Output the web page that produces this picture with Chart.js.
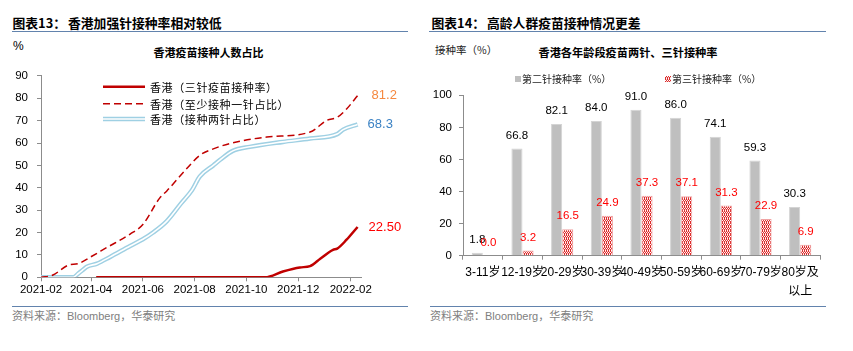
<!DOCTYPE html>
<html>
<head>
<meta charset="utf-8">
<script src="https://cdn.jsdelivr.net/npm/chart.js@4/dist/chart.umd.min.js"></script>
<style>
  html,body{margin:0;padding:0;}
  body{width:853px;height:351px;background:#fff;position:relative;overflow:hidden;font-family:"Liberation Sans","Noto Sans CJK SC",sans-serif;color:#000;}
  .abs{position:absolute;white-space:nowrap;line-height:1;}
  .head{font-family:"Noto Sans CJK SC",sans-serif;font-weight:bold;font-size:12.8px;transform:translateY(-50%);}
  .rule{position:absolute;height:1px;background:#6283ad;}
  .sub{font-family:"Noto Sans CJK SC",sans-serif;font-weight:bold;font-size:11px;transform:translate(-50%,-50%);}
  .src{font-family:"Liberation Sans","Noto Sans CJK SC",sans-serif;font-size:11px;color:#808080;transform:translateY(-50%);}
  .leg{font-family:"Noto Sans CJK SC",sans-serif;font-size:11px;letter-spacing:0.6px;transform:translateY(-50%);}
  .leg2{font-family:"Noto Sans CJK SC",sans-serif;font-size:10px;transform:translateY(-50%);color:#222;}
  canvas{position:absolute;}
</style>
</head>
<body>
<!-- Left panel -->
<div class="abs head" style="left:12.5px;top:22.5px;">图表13：<span style="margin-left:2px">香港加强针接种率相对较低</span></div>
<div class="rule" style="left:12px;top:31px;width:396px;"></div>
<div class="abs" style="left:13px;top:46px;font-size:12px;transform:translateY(-50%);">%</div>
<div class="abs sub" style="left:208.5px;top:52px;">香港疫苗接种人数占比</div>
<canvas id="c1" width="420" height="245" style="left:0;top:60px;width:420px;height:245px;"></canvas>
<svg class="abs" style="left:103px;top:83px;" width="44" height="40">
  <line x1="0" y1="3.7" x2="42" y2="3.7" stroke="#c00000" stroke-width="2.5"/>
  <line x1="0" y1="20.7" x2="42" y2="20.7" stroke="#c00000" stroke-width="1.5" stroke-dasharray="7,4"/>
  <line x1="0" y1="36" x2="42" y2="36" stroke="#9fd0e3" stroke-width="4.5"/>
  <line x1="0" y1="36" x2="42" y2="36" stroke="#ffffff" stroke-width="1.6"/>
</svg>
<div class="abs leg" style="left:150px;top:86.7px;">香港（三针疫苗接种率）</div>
<div class="abs leg" style="left:150px;top:103.7px;">香港（至少接种一针占比）</div>
<div class="abs leg" style="left:150px;top:119px;">香港（接种两针占比）</div>
<div class="rule" style="left:12px;top:306px;width:396px;"></div>
<div class="abs src" style="left:12px;top:316px;">资料来源：Bloomberg，华泰研究</div>

<!-- Right panel -->
<div class="abs head" style="left:431.5px;top:22.5px;">图表14：<span style="margin-left:2px">高龄人群疫苗接种情况更差</span></div>
<div class="rule" style="left:429px;top:31px;width:397px;"></div>
<div class="abs leg2" style="left:435px;top:50px;font-size:10.5px;">接种率（%）</div>
<div class="abs sub" style="left:628px;top:53px;font-size:11.2px;">香港各年龄段疫苗两针、三针接种率</div>
<canvas id="c2" width="433" height="245" style="left:420px;top:60px;width:433px;height:245px;"></canvas>
<div class="abs" style="left:515px;top:76px;width:6px;height:6px;background:#bfbfbf;"></div>
<div class="abs leg2" style="left:522px;top:79px;">第二针接种率（%）</div>
<canvas id="lg3" width="6" height="6" style="left:665px;top:76px;width:6px;height:6px;"></canvas>
<div class="abs leg2" style="left:672px;top:79px;">第三针接种率（%）</div>
<div class="rule" style="left:430px;top:306px;width:396px;"></div>
<div class="abs src" style="left:430px;top:316px;">资料来源：Bloomberg，华泰研究</div>

<script>
// ---------------- Left chart data ----------------
const xTickLabels = ['2021-02','2021-04','2021-06','2021-08','2021-10','2021-12','2022-02'];
const yTicksLeft = [0,10,20,30,40,50,60,70,80,90];

const dose1Dates = ['2021-02-01','2021-02-15','2021-03-05','2021-03-17','2021-03-31','2021-04-20','2021-05-17','2021-06-01','2021-06-21','2021-06-29','2021-07-23','2021-08-07','2021-08-23','2021-09-11','2021-10-25','2021-12-15','2022-01-04','2022-01-16','2022-01-27','2022-02-09'];
const dose1Values = [0,1,5.4,6.1,9,13.4,19.3,23.6,35.5,38.5,48.7,54.5,57.4,59.7,62.7,64.9,70.2,71.5,75.2,81.2];

const dose2Dates = ['2021-02-01','2021-03-11','2021-03-17','2021-03-23','2021-03-27','2021-04-08','2021-04-23','2021-05-17','2021-06-01','2021-06-13','2021-06-29','2021-07-16','2021-07-29','2021-08-07','2021-08-23','2021-08-31','2021-09-15','2021-10-05','2021-11-13','2021-12-15','2022-01-16','2022-01-23','2022-02-09'];
const dose2Values = [0,0,1.7,3.5,4.7,6.1,9,14,17,20,25,33,39,45,50,52.5,56.5,58.3,60.5,62,64,66,68.3];

const dose3Dates = ['2021-04-07','2021-10-23','2021-11-13','2021-12-03','2021-12-15','2021-12-27','2022-01-11','2022-01-16','2022-01-27','2022-02-09'];
const dose3Values = [0,0,2.6,4.4,5.0,8.3,12.3,12.8,16.8,22.5];

const seriesNames = ['香港（三针疫苗接种率）','香港（至少接种一针占比）','香港（接种两针占比）'];

// ---------------- Right chart data ----------------
const ageGroups = ['3-11岁','12-19岁','20-29岁','30-39岁','40-49岁','50-59岁','60-69岁','70-79岁',['80岁及','以上']];
const secondDoseRate = [1.8,66.8,82.1,84.0,91.0,86.0,74.1,59.3,30.3];
const thirdDoseRate = [0.0,3.2,16.5,24.9,37.3,37.1,31.3,22.9,6.9];
const barSeriesNames = ['第二针接种率（%）','第三针接种率（%）'];

// ---------------- helpers ----------------
const ORIGIN = Date.UTC(2021,1,1);
function dayOf(s){
  const p = s.split('-').map(Number);
  return (Date.UTC(p[0], p[1]-1, p[2]||1) - ORIGIN)/86400000;
}
function pts(dates, vals){ return dates.map((d,i)=>({x:dayOf(d), y:vals[i]})); }
const xTickDays = xTickLabels.map(l=>dayOf(l));
const tickLabelMap = {};
xTickDays.forEach((d,i)=>{ tickLabelMap[d]=xTickLabels[i]; });

const NUMFONT = '"Liberation Sans", "Noto Sans CJK SC", sans-serif';
const AXIS = '#8c8c8c';

// End-value labels plugin
const endLabels = {
  id:'endLabels',
  afterDatasetsDraw(chart){
    const ctx = chart.ctx;
    ctx.save();
    ctx.font = '13px ' + NUMFONT;
    ctx.textAlign = 'left';
    ctx.textBaseline = 'middle';
    chart.data.datasets.forEach((ds,i)=>{
      if(!ds.endLabel) return;
      const meta = chart.getDatasetMeta(i);
      const last = meta.data[meta.data.length-1];
      const v = ds.data[ds.data.length-1].y;
      ctx.fillStyle = ds.endLabel.color;
      ctx.fillText(v.toFixed(ds.endLabel.dec), last.x + ds.endLabel.dx, last.y);
    });
    ctx.restore();
  }
};

new Chart(document.getElementById('c1'), {
  type:'line',
  data:{
    datasets:[
      {label:seriesNames[0], data:pts(dose3Dates,dose3Values), borderColor:'#c00000', borderWidth:2.5, pointRadius:0, order:0, cubicInterpolationMode:'monotone', endLabel:{color:'#ff0000',dec:2,dx:11}},
      {label:seriesNames[1], data:pts(dose1Dates,dose1Values), borderColor:'#c00000', borderWidth:1.5, borderDash:[7,4], pointRadius:0, order:1, cubicInterpolationMode:'monotone', endLabel:{color:'#f5883f',dec:1,dx:14}},
      {label:'_inner', data:pts(dose2Dates,dose2Values), borderColor:'#ffffff', borderWidth:1.6, pointRadius:0, order:2, cubicInterpolationMode:'monotone'},
      {label:seriesNames[2], data:pts(dose2Dates,dose2Values), borderColor:'#9fd0e3', borderWidth:4.5, pointRadius:0, order:3, cubicInterpolationMode:'monotone', endLabel:{color:'#3b82c4',dec:1,dx:10}}
    ]
  },
  options:{
    responsive:false, animation:false, devicePixelRatio:1,
    layout:{padding:{left:0,right:59,top:13,bottom:3}},
    plugins:{legend:{display:false}, tooltip:{enabled:false}},
    scales:{
      x:{
        type:'linear', min:0, max:377,
        afterBuildTicks:(s)=>{ s.ticks = xTickDays.map(v=>({value:v})); },
        afterFit:(s)=>{ s.height = 24.7; },
        ticks:{callback:(v)=>tickLabelMap[v]||'', font:{size:11.5,family:NUMFONT}, color:'#000', padding:2, maxRotation:0, autoSkip:false},
        grid:{drawOnChartArea:false, tickLength:4, color:AXIS},
        border:{color:AXIS, width:1}
      },
      y:{
        min:0, max:90,
        afterBuildTicks:(s)=>{ s.ticks = yTicksLeft.map(v=>({value:v})); },
        afterFit:(s)=>{ s.width = 41; },
        ticks:{font:{size:11.5,family:NUMFONT}, color:'#000', padding:9},
        grid:{drawOnChartArea:false, tickLength:4, color:AXIS},
        border:{color:AXIS, width:1}
      }
    }
  },
  plugins:[endLabels]
});

// pattern for third-dose bars
function makePattern(){
  const c = document.createElement('canvas'); c.width=4; c.height=4;
  const g = c.getContext('2d');
  g.fillStyle='#dc2c2c'; g.fillRect(0,0,4,4);
  g.fillStyle='#ffffff';
  g.fillRect(0,0,1,1); g.fillRect(2,0,1,1); g.fillRect(1,2,1,1); g.fillRect(3,2,1,1);
  g.fillStyle='#f6c4c4';
  g.fillRect(1,1,1,1); g.fillRect(3,3,1,1); g.fillRect(1,3,1,1); g.fillRect(3,1,1,1);
  return c;
}
const patCanvas = makePattern();
const ctx2 = document.getElementById('c2').getContext('2d');
const redPattern = ctx2.createPattern(patCanvas,'repeat');
const lg = document.getElementById('lg3').getContext('2d');
lg.fillStyle = lg.createPattern(patCanvas,'repeat'); lg.fillRect(0,0,6,6);

const barLabels = {
  id:'barLabels',
  afterDatasetsDraw(chart){
    const ctx = chart.ctx;
    ctx.save();
    ctx.font = '11.5px ' + NUMFONT;
    ctx.textAlign = 'center';
    ctx.textBaseline = 'middle';
    chart.data.datasets.forEach((ds,i)=>{
      const meta = chart.getDatasetMeta(i);
      meta.data.forEach((el,j)=>{
        ctx.fillStyle = ds.valueColor;
        ctx.fillText(ds.data[j].toFixed(1), el.x, el.y - 13);
      });
    });
    ctx.restore();
  }
};

new Chart(ctx2, {
  type:'bar',
  data:{
    labels:ageGroups,
    datasets:[
      {label:barSeriesNames[0], data:secondDoseRate, backgroundColor:'#bfbfbf', borderColor:'#d4d4d4', borderWidth:1, valueColor:'#000000', categoryPercentage:0.56, barPercentage:1.0},
      {label:barSeriesNames[1], data:thirdDoseRate, backgroundColor:redPattern, borderColor:'#f0a4a4', borderWidth:1, valueColor:'#ff0000', categoryPercentage:0.56, barPercentage:1.0}
    ]
  },
  options:{
    responsive:false, animation:false, devicePixelRatio:1,
    layout:{padding:{left:0,right:33,top:35.3,bottom:3.3}},
    plugins:{legend:{display:false}, tooltip:{enabled:false}},
    scales:{
      x:{
        afterFit:(s)=>{ s.height = 46; },
        ticks:{font:{size:12,family:NUMFONT,lineHeight:1.6}, color:'#000', padding:3, maxRotation:0, minRotation:0, autoSkip:false},
        grid:{drawOnChartArea:false, tickLength:4, color:AXIS, offset:true},
        border:{color:AXIS, width:1}
      },
      y:{
        min:0, max:100,
        ticks:{stepSize:10, font:{size:11.5,family:NUMFONT}, color:'#000', padding:7},
        afterFit:(s)=>{ s.width = 43; },
        grid:{drawOnChartArea:false, tickLength:4, color:AXIS},
        border:{color:AXIS, width:1}
      }
    }
  },
  plugins:[barLabels]
});
</script>
</body>
</html>
